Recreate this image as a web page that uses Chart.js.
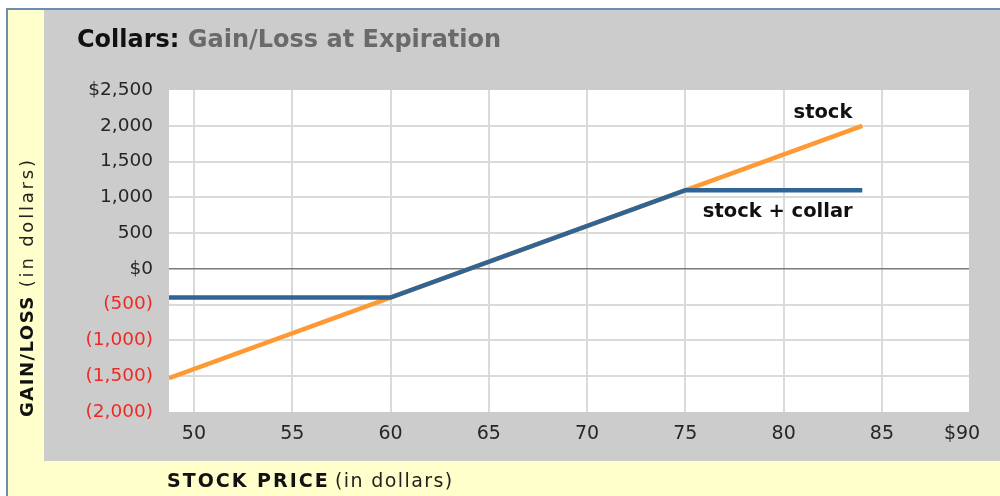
<!DOCTYPE html>
<html>
<head>
<meta charset="utf-8">
<script src="https://cdn.jsdelivr.net/npm/chart.js@4.4.1/dist/chart.umd.min.js"></script>
<style>
  html, body { margin: 0; padding: 0; background: #fff; }
  #frame {
    position: absolute; left: 6px; top: 8px; width: 992px; height: 486px;
    border-left: 2px solid #6b8db4; border-top: 2px solid #6b8db4;
    background: #ffffcc;
  }
  #panel { position: absolute; left: 44px; top: 10px; width: 956px; height: 451px; background: #cccccc; }
  #chart { position: absolute; left: 0; top: 0; }
</style>
</head>
<body>
<div id="frame"></div>
<div id="panel"></div>
<canvas id="chart" width="1000" height="496"></canvas>
<script>
// gain/loss at expiration, $ per 100 shares
const stockPrice = [48.73, 84];
const stockGain = [-1527, 2000];
const collarPrice = [48.73, 60, 75, 84];
const collarGain = [-400, -400, 1100, 1100];

const priceTicks = [50, 55, 60, 65, 70, 75, 80, 85, 90];
const priceTickLabels = ['50', '55', '60', '65', '70', '75', '80', '85', '$90'];
const gainTicks = [-2000, -1500, -1000, -500, 0, 500, 1000, 1500, 2000, 2500];
const gainTickLabels = ['(2,000)', '(1,500)', '(1,000)', '(500)', '$0', '500', '1,000', '1,500', '2,000', '$2,500'];

// line captions, placed in data units
const captions = ['stock', 'stock + collar'];
const captionPrice = [82.0, 79.7];
const captionGain = [2180, 790];

const PRICE_MIN = 48.73;
const PRICE_MAX = 89.43;

const toPoints = (xs, ys) => xs.map((x, i) => ({ x: x, y: ys[i] }));

// white plot background, titles and line captions
const decorations = {
    id: 'decorations',
    beforeDraw(chart) {
        const { ctx, chartArea: a } = chart;
        ctx.save();
        ctx.fillStyle = '#ffffff';
        ctx.fillRect(a.left, a.top, a.right - a.left, a.bottom - a.top);
        ctx.restore();
    },
    afterDraw(chart) {
        const ctx = chart.ctx;
        const xs = chart.scales.x, ys = chart.scales.y;
        ctx.save();

        // chart title
        ctx.textAlign = 'left';
        ctx.textBaseline = 'alphabetic';
        ctx.font = 'bold 24px "DejaVu Sans"';
        ctx.fillStyle = '#111111';
        ctx.fillText('Collars:', 77, 47);
        let w = ctx.measureText('Collars: ').width;
        ctx.fillStyle = '#6a6a6a';
        ctx.fillText('Gain/Loss at Expiration', 77 + w, 47);

        // x axis title
        ctx.letterSpacing = '2px';
        ctx.font = 'bold 19px "DejaVu Sans"';
        ctx.fillStyle = '#111111';
        ctx.fillText('STOCK PRICE', 167, 487);
        ctx.letterSpacing = '1.4px';
        ctx.font = '19px "DejaVu Sans"';
        ctx.fillStyle = '#222222';
        ctx.fillText('(in dollars)', 335, 487);

        // y axis title, reading upward
        ctx.translate(33, 417);
        ctx.rotate(-Math.PI / 2);
        ctx.letterSpacing = '1.5px';
        ctx.font = 'bold 18px "DejaVu Sans"';
        ctx.fillStyle = '#111111';
        ctx.fillText('GAIN/LOSS', 0, 0);
        w = ctx.measureText('GAIN/LOSS').width;
        ctx.letterSpacing = '2.8px';
        ctx.font = '18px "DejaVu Sans"';
        ctx.fillStyle = '#222222';
        ctx.fillText('(in dollars)', w + 8, 0);
        ctx.setTransform(1, 0, 0, 1, 0, 0);

        // line captions
        ctx.letterSpacing = '0px';
        ctx.font = 'bold 19.5px "DejaVu Sans"';
        ctx.fillStyle = '#111111';
        ctx.textAlign = 'center';
        ctx.textBaseline = 'middle';
        captions.forEach((text, i) => {
            ctx.fillText(text, xs.getPixelForValue(captionPrice[i]), ys.getPixelForValue(captionGain[i]));
        });
        ctx.restore();
    }
};

new Chart(document.getElementById('chart').getContext('2d'), {
    type: 'line',
    data: {
        datasets: [
            {
                label: 'stock + collar',
                data: toPoints(collarPrice, collarGain),
                borderColor: '#2f6496',
                borderWidth: 4.5,
                pointRadius: 0,
                fill: false
            },
            {
                label: 'stock',
                data: toPoints(stockPrice, stockGain),
                borderColor: '#ff9933',
                borderWidth: 4.5,
                pointRadius: 0,
                fill: false
            }
        ]
    },
    options: {
        responsive: false,
        animation: false,
        devicePixelRatio: 1,
        layout: { padding: { top: 90, right: 31, bottom: 0, left: 0 } },
        plugins: { legend: { display: false }, tooltip: { enabled: false } },
        scales: {
            x: {
                type: 'linear',
                min: PRICE_MIN,
                max: PRICE_MAX,
                afterBuildTicks(scale) {
                    // blank tick at the left edge so 'inner' alignment only shifts the last label
                    scale.ticks = [{ value: PRICE_MIN }].concat(priceTicks.map(v => ({ value: v })));
                },
                afterFit(scale) { scale.height = 84; },
                border: { display: false },
                grid: {
                    drawTicks: false,
                    lineWidth: 2,
                    color(ctx) {
                        const v = ctx.tick && ctx.tick.value;
                        return (v === PRICE_MIN || v === 90) ? 'rgba(0,0,0,0)' : '#dadada';
                    }
                },
                ticks: {
                    autoSkip: false,
                    maxRotation: 0,
                    align: 'inner',
                    padding: 11,
                    color: '#262626',
                    font: { family: '"DejaVu Sans"', size: 19 },
                    callback(value) {
                        const i = priceTicks.indexOf(value);
                        return i < 0 ? '' : priceTickLabels[i];
                    }
                }
            },
            y: {
                min: -2000,
                max: 2500,
                afterBuildTicks(scale) {
                    scale.ticks = gainTicks.map(v => ({ value: v }));
                },
                afterFit(scale) { scale.width = 169; },
                border: { display: false },
                grid: {
                    drawTicks: false,
                    lineWidth(ctx) { return ctx.tick && ctx.tick.value === 0 ? 1.5 : 2; },
                    color(ctx) {
                        const v = ctx.tick && ctx.tick.value;
                        if (v === 0) return '#7a7a7a';
                        if (v === -2000 || v === 2500) return 'rgba(0,0,0,0)';
                        return '#dadada';
                    }
                },
                ticks: {
                    padding: 16,
                    autoSkip: false,
                    font: { family: '"DejaVu Sans"', size: 18.5 },
                    color(ctx) { return ctx.tick.value < 0 ? '#ee2a24' : '#262626'; },
                    callback(value) {
                        const i = gainTicks.indexOf(value);
                        return i < 0 ? '' : gainTickLabels[i];
                    }
                }
            }
        }
    },
    plugins: [decorations]
});
</script>
</body>
</html>
